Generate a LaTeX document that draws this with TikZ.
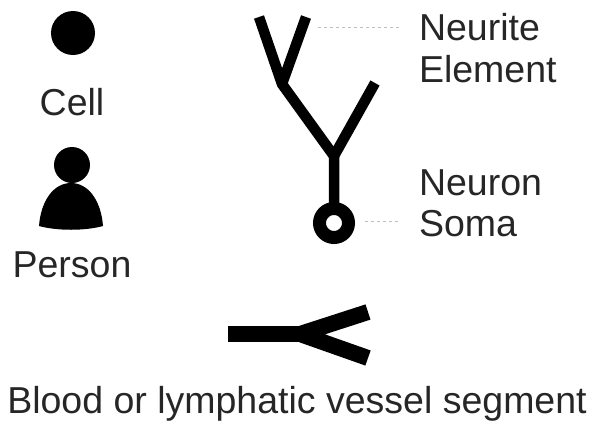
\documentclass[tikz,border=0pt]{standalone}
\usepackage{fontspec}
\setmainfont{Liberation Sans}
\usetikzlibrary{positioning}
\begin{document}
\begin{tikzpicture}[
    x=1pt, y=-1pt,
    branch/.style={line width=10.5pt, line join=miter},
    vessel/.style={line width=16pt, line join=miter},
    leader/.style={line width=0.7pt, dashed, black!25},
    every node/.style={
        inner sep=0pt,
        outer sep=0pt,
        text=black!85,
        font=\fontsize{37.5}{42}\selectfont
    },
    label left/.style={anchor=base west}
]
  \useasboundingbox (0,0) rectangle (595,421);
  % cell and person
  \fill (73,33) circle (22);
  \node (cell) at (72,102) {Cell};
  \fill (72,165) circle (18);
  \fill (39,226) .. controls (41,200) and (54,183) .. (71,183) .. controls (88,183) and (101,200) .. (103,226)
        .. controls (85,231) and (57,231) .. (39,226) -- cycle;
  \node (person) at (72,265) {Person};
  % neuron
  \coordinate (tipA) at (259,17);
  \coordinate (tipB) at (306,17);
  \coordinate (forkA) at (282,84);
  \coordinate (tipC) at (375,83);
  \coordinate (forkB) at (334,156);
  \coordinate (soma) at (334,223);
  \draw[branch] (tipA) -- (forkA) -- (forkB) -- (soma);
  \draw[branch] (tipB) -- (forkA);
  \draw[branch] (tipC) -- (forkB);
  \draw[line width=13pt, fill=white] (soma) circle (14.5);
  % labels
  \node[label left] (neurite) at (419,40) {Neurite};
  \node[label left] (element) at (419,82) {Element};
  \node[label left] (neuron) at (419,195) {Neuron};
  \node[label left] (somaname) at (419,236) {Soma};
  \coordinate (neuriteEnd) at (318,27);
  \coordinate (somaEnd) at (365,221);
  \draw[leader] (neuriteEnd) -- (400,27);
  \draw[leader] (somaEnd) -- (400,221);
  % vessel
  \coordinate (stemStart) at (228,334);
  \coordinate (fork) at (300,334);
  \coordinate (upper) at (368,312);
  \coordinate (lower) at (368,358);
  \draw[vessel] (stemStart) -- (fork);
  \draw[vessel] (upper) -- (fork) -- (lower);
  \node (vesselname) at (297,404) {Blood or lymphatic vessel segment};
\end{tikzpicture}
\end{document}
